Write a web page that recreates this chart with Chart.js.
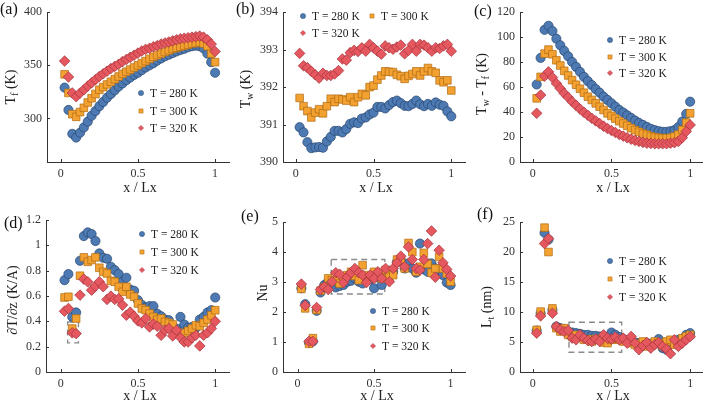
<!DOCTYPE html>
<html>
<head>
<meta charset="utf-8">
<script src="https://cdn.jsdelivr.net/npm/chart.js@4.4.1/dist/chart.umd.min.js"></script>
<style>
  body { margin: 0; background: #fff; width: 709px; height: 404px; overflow: hidden; position: relative;
         font-family: 'Liberation Serif', 'Times New Roman', serif; }
  canvas { position: absolute; }
  .lbl { position: absolute; white-space: nowrap; color: #222; font-size: 14px; line-height: 1;
         transform: translate(-50%, -50%); }
  .rot { transform: translate(-50%, -50%) rotate(-90deg); }
  .tag { position: absolute; font-size: 16px; color: #111; line-height: 1; }
  sub { font-size: 70%; vertical-align: -0.3em; line-height: 0; }
</style>
</head>
<body>
<script>
// x / Lx positions shared by every panel
const xPos = [0.025, 0.05, 0.075, 0.1, 0.125, 0.15, 0.175, 0.2, 0.225, 0.25,
  0.275, 0.3, 0.325, 0.35, 0.375, 0.4, 0.425, 0.45, 0.475, 0.5,
  0.525, 0.55, 0.575, 0.6, 0.625, 0.65, 0.675, 0.7, 0.725, 0.75,
  0.775, 0.8, 0.825, 0.85, 0.875, 0.9, 0.925, 0.95, 0.975, 1.0];

const seriesNames = ['T = 280 K', 'T = 300 K', 'T = 320 K'];

// (a) Tf
const tf280 = [329, 308, 285.5, 282, 286.5, 291.5, 297, 302.5, 307, 311.5, 315.5, 319.5, 323, 326.5, 330, 333, 336, 338.5, 341, 343,
  345.5, 348, 350, 352, 354.5, 356.5, 358.5, 360, 361.5, 363, 364.5, 365.5, 367, 368, 368.5, 368, 366, 361, 353, 343];
const tf300 = [341.5, 324, 304, 301.5, 306, 310, 315, 319, 323, 327, 329.5, 332, 334.5, 337, 339.5, 342, 344, 346, 348, 350,
  352, 354, 356, 358, 359.5, 361, 362.5, 364, 365.5, 366.5, 367.5, 368.5, 369.5, 370.5, 371, 371.5, 370.5, 368, 361, 353];
const tf320 = [354, 339, 324, 320.5, 324, 327, 330.5, 333.5, 336.5, 339.5, 342, 344.5, 347, 349, 351, 353.5, 355.5, 357.5, 359.5, 361.5,
  363.5, 365, 366, 367.5, 368.5, 370, 371, 372, 373, 374, 375, 375.5, 376, 376.5, 377, 377.5, 376.5, 374, 370, 363];

// (b) Tw
const tw280 = [390.93, 390.79, 390.53, 390.37, 390.39, 390.4, 390.38, 390.55, 390.67, 390.83, 390.83, 390.79, 390.88, 391.02, 391.06, 391.04, 391.16, 391.19, 391.27, 391.32,
  391.47, 391.47, 391.43, 391.52, 391.6, 391.64, 391.57, 391.5, 391.49, 391.55, 391.64, 391.54, 391.49, 391.55, 391.5, 391.59, 391.53, 391.5, 391.35, 391.22];
const tw300 = [391.71, 391.49, 391.36, 391.19, 391.32, 391.41, 391.3, 391.49, 391.69, 391.6, 391.69, 391.67, 391.64, 391.73, 391.6, 391.73, 391.82, 391.78, 392.0, 392.04,
  392.2, 392.31, 392.42, 392.41, 392.4, 392.33, 392.29, 392.22, 392.3, 392.35, 392.42, 392.31, 392.42, 392.51, 392.42, 392.38, 392.18, 392.13, 392.18, 391.91];
const tw320 = [392.9, 392.57, 392.52, 392.42, 392.33, 392.24, 392.37, 392.31, 392.31, 392.35, 392.44, 392.75, 392.72, 392.92, 392.98, 392.95, 393.05, 392.96, 393.14, 393.05,
  392.96, 392.88, 393.1, 393.05, 393.01, 393.07, 393.12, 392.89, 392.98, 393.14, 392.96, 393.14, 393.12, 393.05, 392.96, 393.05, 393.03, 393.1, 393.14, 392.96];

// (c) Tw - Tf
const dt280 = [62.1, 83.4, 105.9, 109.1, 104.9, 98.8, 93.5, 89, 84.7, 80.2, 76.2, 72.2, 68.2, 64.8, 61.6, 58.4, 55.5, 52.3, 49.7, 47,
  44.3, 41.7, 39.6, 37.4, 35.3, 33.2, 31.3, 29.7, 28.1, 26.6, 25.5, 24.7, 24.2, 24.2, 24.7, 25.5, 28, 32.4, 38.5, 48.3];
const dt300 = [51, 68.2, 86.8, 90, 86.3, 81.5, 77.3, 73, 69.3, 65.6, 61.9, 58.7, 55.5, 52.3, 49.7, 47, 44.3, 41.7, 39, 36.9,
  34.8, 32.7, 30.8, 29, 27.1, 25.5, 24.2, 22.8, 21.8, 20.7, 19.9, 19.4, 19.1, 19.1, 19.4, 20.4, 22, 25.8, 31.5, 39];
const dt320 = [39, 53.6, 68.8, 72.2, 67.7, 62.9, 58.9, 55, 51.8, 48.3, 45.4, 42.5, 39.8, 37.4, 35, 32.9, 30.8, 28.7, 26.8, 25.2,
  23.6, 22, 20.7, 19.4, 18.3, 17.3, 16.5, 15.7, 15.1, 14.9, 14.6, 14.6, 14.6, 14.6, 15.1, 15.5, 16.5, 19.5, 24.5, 29.7];

// (d) dT/dz
const gr280 = [0.725, 0.773, 0.435, 0.47, 0.878, 1.073, 1.102, 1.089, 1.034, 0.936, 0.902, 0.894, 0.831, 0.804, 0.773, 0.712, 0.744, 0.651, 0.641, 0.567,
  0.53, 0.509, 0.52, 0.52, 0.459, 0.44, 0.414, 0.409, 0.356, 0.343, 0.435, 0.375, 0.348, 0.356, 0.348, 0.414, 0.435, 0.47, 0.488, 0.588];
const gr300 = [0.588, 0.594, 0.343, 0.422, 0.76, 0.905, 0.87, 0.884, 0.905, 0.823, 0.791, 0.778, 0.72, 0.712, 0.673, 0.633, 0.673, 0.612, 0.594, 0.541,
  0.501, 0.488, 0.462, 0.435, 0.414, 0.422, 0.396, 0.388, 0.375, 0.303, 0.303, 0.309, 0.325, 0.343, 0.369, 0.361, 0.388, 0.414, 0.448, 0.488];
const gr320 = [0.48, 0.501, 0.309, 0.303, 0.607, 0.733, 0.712, 0.646, 0.678, 0.712, 0.673, 0.573, 0.599, 0.573, 0.578, 0.528, 0.448, 0.472, 0.44, 0.403,
  0.388, 0.422, 0.356, 0.378, 0.361, 0.29, 0.33, 0.343, 0.285, 0.33, 0.272, 0.237, 0.237, 0.27, 0.29, 0.206, 0.29, 0.31, 0.343, 0.4];

// (e) Nu
const nu280 = [2.79, 2.26, 0.98, 1.02, 2.04, 2.65, 2.9, 3.01, 2.87, 2.82, 2.87, 2.9, 3.01, 3.04, 3.12, 3.01, 2.95, 3.06, 3.08, 2.79,
  3.15, 2.9, 3.17, 3.37, 3.34, 3.67, 3.73, 3.45, 3.62, 3.45, 3.31, 4.28, 3.42, 3.34, 3.62, 3.45, 3.34, 3.23, 2.98, 2.9];
const nu300 = [2.77, 2.12, 0.94, 1.13, 2.07, 2.71, 2.82, 3.12, 3.06, 3.04, 2.95, 3.08, 3.23, 3.34, 3.2, 3.06, 3.56, 3.23, 3.17, 3.34,
  3.2, 3.12, 3.4, 3.17, 3.23, 3.75, 3.73, 3.45, 4.3, 4.0, 3.34, 3.51, 3.97, 3.6, 3.31, 3.45, 3.84, 3.45, 3.28, 3.01];
const nu320 = [2.93, 2.22, 1.02, 1.02, 2.15, 2.75, 2.84, 2.75, 3.01, 3.31, 3.26, 2.98, 3.17, 3.31, 3.45, 3.31, 3.23, 2.98, 3.23, 3.12,
  3.34, 3.12, 3.45, 3.01, 3.45, 3.64, 3.86, 3.51, 4.17, 3.75, 3.45, 3.4, 3.75, 4.28, 4.7, 3.16, 4.06, 3.64, 3.42, 3.2];

// (f) Lt
const lt280 = [6.91, 9.79, 23.2, 22.07, 10.34, 7.58, 7.3, 7.13, 6.75, 6.58, 6.47, 6.36, 6.19, 6.19, 6.03, 6.03, 5.92, 5.92, 5.81, 6.58,
  6.19, 5.81, 5.48, 5.26, 5.09, 4.92, 4.81, 4.7, 4.81, 4.7, 4.81, 5.48, 3.98, 3.71, 4.7, 4.92, 5.37, 5.48, 6.19, 6.47];
const lt300 = [7.02, 10.07, 24.06, 20.0, 10.6, 7.3, 6.75, 7.3, 6.19, 5.92, 6.19, 5.81, 5.37, 5.48, 5.09, 5.48, 5.37, 4.92, 4.81, 5.37,
  5.48, 5.37, 5.09, 5.26, 4.81, 4.53, 4.7, 5.09, 4.26, 4.7, 5.09, 4.81, 4.37, 5.09, 5.37, 4.53, 4.92, 5.64, 5.92, 6.19];
const lt320 = [6.47, 9.35, 21.4, 22.24, 9.79, 7.58, 7.02, 6.75, 6.91, 5.64, 5.37, 6.19, 5.64, 5.26, 5.09, 5.48, 5.09, 6.19, 5.64, 5.48,
  5.81, 5.37, 5.64, 4.81, 5.92, 4.81, 3.71, 4.37, 4.92, 3.98, 4.53, 4.92, 4.26, 3.82, 3.04, 5.37, 4.26, 4.81, 5.37, 5.92];

// tick labels
const xTicks = [0, 0.5, 1];
const tfTicks = [300, 350, 400];
const twTicks = [390, 391, 392, 393, 394];
const dtTicks = [0, 20, 40, 60, 80, 100, 120];
const grTicks = [0, 0.2, 0.4, 0.6, 0.8, 1, 1.2];
const nuTicks = [0, 1, 2, 3, 4, 5];
const ltTicks = [0, 5, 10, 15, 20, 25];

// dashed zoom boxes [x0, x1, y0, y1] in data units
const grBox = [0.045, 0.115, 0.23, 0.395];
const nuBox = [0.22, 0.57, 2.6, 3.75];
const ltBox = [0.23, 0.565, 3.3, 8.3];

const marks = [
  { shape: 'circle', r: 4.6, fill: '#4d7ab3', line: '#27466f' },
  { shape: 'rect', r: 5.4, fill: '#f3a130', line: '#b06c14' },
  { shape: 'rectRot', r: 5.3, fill: '#e5585f', line: '#a3313a' }
];

const fontFam = "'Liberation Serif', 'Times New Roman', serif";

// ===== page layout of the six panels (page pixels) =====
const panels = [
  { tag: '(a)', tagPos: [0, 1], box: [0, 0, 236, 200], area: [47, 10, 233, 162], xr: [-0.089, 1.096], yr: [259, 400],
    yTicks: tfTicks, series: [tf280, tf300, tf320],
    legend: [[141, 93], [141, 111], [141, 128]],
    yTitle: 'T<sub>f</sub> (K)', yTitlePos: [11, 87], xTitlePos: [140, 188] },
  { tag: '(b)', tagPos: [236, 1], box: [236, 0, 236, 200], area: [283, 11, 470, 162], xr: [-0.082, 1.094], yr: [390, 394],
    yTicks: twTicks, series: [tw280, tw300, tw320],
    legend: [[303, 16], [372, 16], [303, 33]],
    yTitle: 'T<sub>w</sub> (K)', yTitlePos: [246, 89], xTitlePos: [376, 188] },
  { tag: '(c)', tagPos: [474, 3], box: [472, 0, 237, 200], area: [520, 12, 706, 162], xr: [-0.081, 1.081], yr: [0, 120],
    yTicks: dtTicks, series: [dt280, dt300, dt320],
    legend: [[610, 40], [610, 57], [610, 73]],
    yTitle: 'T<sub>w</sub> - T<sub>f</sub> (K)', yTitlePos: [482, 84], xTitlePos: [613, 188] },
  { tag: '(d)', tagPos: [4, 215], box: [0, 200, 236, 204], area: [46, 220, 234, 372], xr: [-0.095, 1.095], yr: [0, 1.2],
    yTicks: grTicks, series: [gr280, gr300, gr320], dashBox: grBox,
    legend: [[142, 234], [142, 252], [142, 270]],
    yTitle: '\u2202T/\u2202z (K/A)', yTitlePos: [13, 300], xTitlePos: [140, 396] },
  { tag: '(e)', tagPos: [241, 208], box: [236, 200, 236, 204], area: [283, 222, 471, 372], xr: [-0.095, 1.1], yr: [0, 5],
    yTicks: nuTicks, series: [nu280, nu300, nu320], dashBox: nuBox,
    legend: [[373, 311], [373, 328], [373, 346]],
    yTitle: 'Nu', yTitlePos: [263, 293], xTitlePos: [377, 396] },
  { tag: '(f)', tagPos: [477, 206], box: [472, 200, 237, 204], area: [520, 222, 706, 372], xr: [-0.081, 1.081], yr: [0, 25],
    yTicks: ltTicks, series: [lt280, lt300, lt320], dashBox: ltBox,
    legend: [[610, 261], [610, 279], [610, 297]],
    yTitle: 'L<sub>t</sub> (nm)', yTitlePos: [487, 307], xTitlePos: [613, 396] }
];

function drawMark(ctx, m, x, y, r) {
  ctx.beginPath();
  if (m.shape === 'circle') ctx.arc(x, y, r, 0, Math.PI * 2);
  else if (m.shape === 'rect') { const s = r * 0.8; ctx.rect(x - s, y - s, 2 * s, 2 * s); }
  else { ctx.moveTo(x, y - r); ctx.lineTo(x + r, y); ctx.lineTo(x, y + r); ctx.lineTo(x - r, y); ctx.closePath(); }
  ctx.fillStyle = m.fill; ctx.fill();
  ctx.lineWidth = 0.5; ctx.strokeStyle = m.line; ctx.stroke();
}

// dashed box under the markers, inner ticks and legend on top
const decor = {
  id: 'decor',
  beforeDatasetsDraw(chart, args, o) {
    if (!o.dashBox) return;
    const { ctx, scales: { x, y } } = chart;
    const b = o.dashBox;
    ctx.save();
    ctx.strokeStyle = '#8c8c8c'; ctx.lineWidth = 1.4; ctx.setLineDash([6, 4]);
    const x0 = x.getPixelForValue(b[0]), x1 = x.getPixelForValue(b[1]);
    const y0 = y.getPixelForValue(b[2]), y1 = y.getPixelForValue(b[3]);
    ctx.strokeRect(x0, y1, x1 - x0, y0 - y1);
    ctx.restore();
  },
  afterDraw(chart, args, o) {
    const { ctx, chartArea: ca, scales: { x, y } } = chart;
    ctx.save();
    ctx.strokeStyle = '#333'; ctx.lineWidth = 1;
    ctx.beginPath();
    x.ticks.forEach(t => { const px = Math.round(x.getPixelForValue(t.value)) + 0.5; ctx.moveTo(px, ca.bottom); ctx.lineTo(px, ca.bottom - 3); });
    y.ticks.forEach(t => { const py = Math.round(y.getPixelForValue(t.value)) + 0.5; ctx.moveTo(ca.left, py); ctx.lineTo(ca.left + 3, py); });
    ctx.stroke();
    ctx.font = '11.5px ' + fontFam;
    ctx.textBaseline = 'middle';
    o.legend.forEach((p, i) => {
      const lx = p[0] - o.offset[0], ly = p[1] - o.offset[1];
      drawMark(ctx, marks[i], lx, ly, 2.6);
      ctx.fillStyle = '#222';
      ctx.fillText(seriesNames[i], lx + 9, ly + 0.5);
    });
    ctx.restore();
  }
};

function addLabel(html, cls, pos) {
  const d = document.createElement('div');
  d.className = cls;
  d.innerHTML = html;
  d.style.left = pos[0] + 'px';
  d.style.top = pos[1] + 'px';
  document.body.appendChild(d);
}

panels.forEach(p => {
  const [bl, bt, bw, bh] = p.box;
  const cv = document.createElement('canvas');
  cv.width = bw; cv.height = bh;
  cv.style.left = bl + 'px'; cv.style.top = bt + 'px';
  cv.style.width = bw + 'px'; cv.style.height = bh + 'px';
  document.body.appendChild(cv);

  const yw = p.area[0] - bl, xh = bt + bh - p.area[3];
  const tickFont = { family: fontFam, size: 12 };

  new Chart(cv, {
    type: 'scatter',
    data: {
      datasets: p.series.map((vals, i) => ({
        label: seriesNames[i],
        data: xPos.map((xv, j) => ({ x: xv, y: vals[j] })),
        pointStyle: marks[i].shape,
        pointRadius: marks[i].r,
        backgroundColor: marks[i].fill,
        borderColor: marks[i].line,
        borderWidth: 0.7,
        order: 3 - i
      }))
    },
    options: {
      responsive: false, animation: false, events: [], devicePixelRatio: 1,
      layout: { padding: { top: p.area[1] - bt, right: bl + bw - p.area[2], left: 0, bottom: 0 } },
      plugins: {
        legend: { display: false }, tooltip: { enabled: false },
        decor: { legend: p.legend, offset: [bl, bt], dashBox: p.dashBox || null }
      },
      scales: {
        x: {
          type: 'linear', min: p.xr[0], max: p.xr[1],
          afterBuildTicks: s => { s.ticks = xTicks.map(v => ({ value: v })); },
          afterFit: s => { s.height = xh; },
          grid: { display: false, drawTicks: false },
          border: { color: '#333', width: 1 },
          ticks: { font: tickFont, color: '#333', padding: 5, maxRotation: 0, autoSkip: false, callback: v => String(v) }
        },
        y: {
          type: 'linear', min: p.yr[0], max: p.yr[1],
          afterBuildTicks: s => { s.ticks = p.yTicks.map(v => ({ value: v })); },
          afterFit: s => { s.width = yw; },
          grid: { display: false, drawTicks: false },
          border: { color: '#333', width: 1 },
          ticks: { font: tickFont, color: '#333', padding: 5, autoSkip: false, callback: v => String(v) }
        }
      }
    },
    plugins: [decor]
  });

  addLabel(p.tag, 'tag', p.tagPos);
  addLabel(p.yTitle, 'lbl rot', p.yTitlePos);
  addLabel('x / Lx', 'lbl', p.xTitlePos);
});
</script>
</body>
</html>
